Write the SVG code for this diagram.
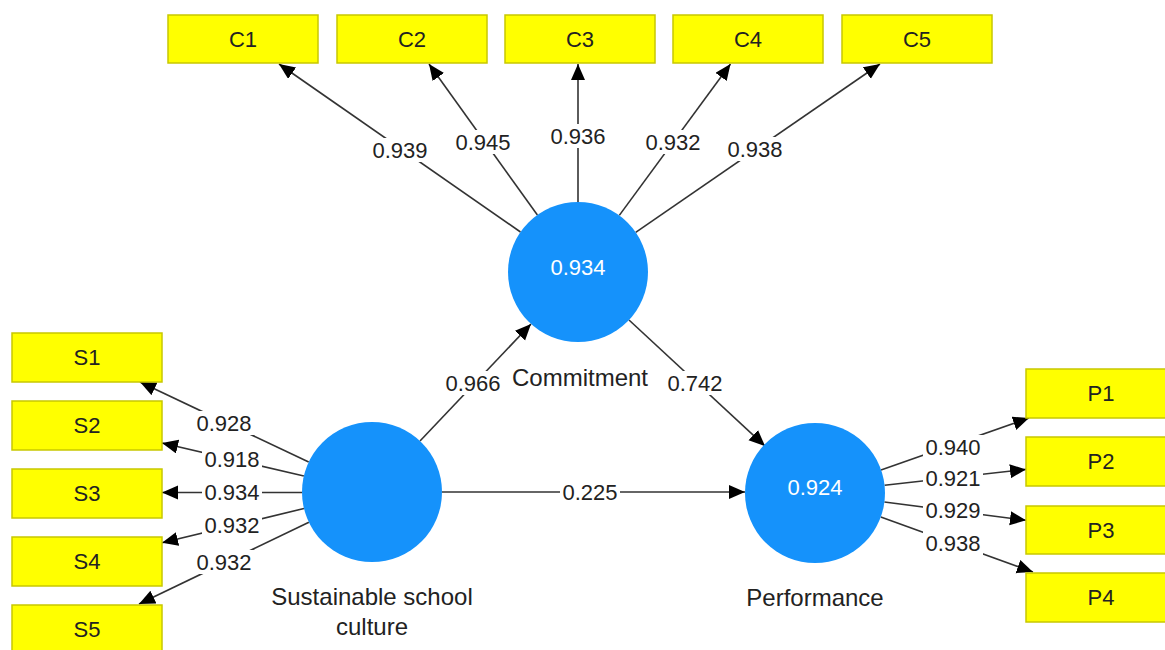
<svg xmlns="http://www.w3.org/2000/svg" width="1165" height="650" viewBox="0 0 1165 650">
<style>
.box{fill:#ffff00;stroke:#c8c800;stroke-width:1.5}
.lv{fill:#1592fb}
.t{font-family:"Liberation Sans",Arial,sans-serif;font-size:22px;fill:#222;text-anchor:middle}
.n{font-family:"Liberation Sans",Arial,sans-serif;font-size:24px;fill:#222;text-anchor:middle}
.w{font-family:"Liberation Sans",Arial,sans-serif;font-size:22px;fill:#fff;text-anchor:middle}
.e{stroke:#333;stroke-width:1.6;fill:none;marker-end:url(#ah)}
.bg{fill:#fff}
</style>
<defs>
<marker id="ah" markerUnits="userSpaceOnUse" markerWidth="18" markerHeight="16" refX="16" refY="7" orient="auto">
<path d="M0,0 L16,7 L0,14 z" fill="#000"/>
</marker>
</defs>
<g id="connectors">
<line class="e" x1="520.5" y1="232" x2="279" y2="64"/>
<line class="e" x1="537.4" y1="215" x2="429" y2="64"/>
<line class="e" x1="578" y1="202" x2="578" y2="64"/>
<line class="e" x1="619.3" y1="215.4" x2="730.5" y2="64"/>
<line class="e" x1="635.7" y1="232.3" x2="880" y2="64"/>
<line class="e" x1="308.7" y1="462" x2="140" y2="382"/>
<line class="e" x1="303.9" y1="476" x2="162" y2="443"/>
<line class="e" x1="302" y1="492.5" x2="162" y2="492.5"/>
<line class="e" x1="304" y1="508.5" x2="162" y2="542.8"/>
<line class="e" x1="308.9" y1="522.3" x2="139" y2="604"/>
<line class="e" x1="881" y1="469.9" x2="1029" y2="418"/>
<line class="e" x1="884.6" y1="485.2" x2="1026" y2="469.4"/>
<line class="e" x1="884.4" y1="502" x2="1026" y2="520.3"/>
<line class="e" x1="880.8" y1="516.9" x2="1033" y2="572"/>
<line class="e" x1="420" y1="441" x2="531" y2="324"/>
<line class="e" x1="629" y1="320" x2="765" y2="446"/>
<line class="e" x1="442" y1="492" x2="745" y2="492"/>
<g id="edge-labels">
<rect class="bg" x="370" y="138" width="60" height="24"/><text class="t" x="400" y="158">0.939</text>
<rect class="bg" x="453" y="130" width="60" height="24"/><text class="t" x="483" y="150">0.945</text>
<rect class="bg" x="548" y="124" width="60" height="24"/><text class="t" x="578" y="144">0.936</text>
<rect class="bg" x="643" y="130" width="60" height="24"/><text class="t" x="673" y="150">0.932</text>
<rect class="bg" x="725" y="137" width="60" height="24"/><text class="t" x="755" y="157">0.938</text>
<rect class="bg" x="194" y="411" width="60" height="24"/><text class="t" x="224" y="431">0.928</text>
<rect class="bg" x="202" y="447" width="60" height="24"/><text class="t" x="232" y="467">0.918</text>
<rect class="bg" x="202" y="480" width="60" height="24"/><text class="t" x="232" y="500">0.934</text>
<rect class="bg" x="202" y="513" width="60" height="24"/><text class="t" x="232" y="533">0.932</text>
<rect class="bg" x="194" y="550" width="60" height="24"/><text class="t" x="224" y="570">0.932</text>
<rect class="bg" x="923" y="435" width="60" height="24"/><text class="t" x="953" y="455">0.940</text>
<rect class="bg" x="923" y="466" width="60" height="24"/><text class="t" x="953" y="486">0.921</text>
<rect class="bg" x="923" y="498" width="60" height="24"/><text class="t" x="953" y="518">0.929</text>
<rect class="bg" x="923" y="531" width="60" height="24"/><text class="t" x="953" y="551">0.938</text>
<rect class="bg" x="443" y="371" width="60" height="24"/><text class="t" x="473" y="391">0.966</text>
<rect class="bg" x="665" y="371" width="60" height="24"/><text class="t" x="695" y="391">0.742</text>
<rect class="bg" x="560" y="480" width="60" height="24"/><text class="t" x="590" y="500">0.225</text>
</g>
</g>
<g id="C1"><rect class="box" x="168" y="15" width="150" height="48"/><text class="t" x="243" y="47">C1</text></g>
<g id="C2"><rect class="box" x="337" y="15" width="150" height="48"/><text class="t" x="412" y="47">C2</text></g>
<g id="C3"><rect class="box" x="505" y="15" width="150" height="48"/><text class="t" x="580" y="47">C3</text></g>
<g id="C4"><rect class="box" x="673" y="15" width="150" height="48"/><text class="t" x="748" y="47">C4</text></g>
<g id="C5"><rect class="box" x="842" y="15" width="150" height="48"/><text class="t" x="917" y="47">C5</text></g>
<g id="S1"><rect class="box" x="12" y="333" width="150" height="49"/><text class="t" x="87" y="365">S1</text></g>
<g id="S2"><rect class="box" x="12" y="401" width="150" height="49"/><text class="t" x="87" y="433">S2</text></g>
<g id="S3"><rect class="box" x="12" y="469" width="150" height="49"/><text class="t" x="87" y="501">S3</text></g>
<g id="S4"><rect class="box" x="12" y="537" width="150" height="49"/><text class="t" x="87" y="569">S4</text></g>
<g id="S5"><rect class="box" x="12" y="605" width="150" height="49"/><text class="t" x="87" y="637">S5</text></g>
<g id="P1"><rect class="box" x="1026" y="369" width="150" height="49"/><text class="t" x="1101" y="401">P1</text></g>
<g id="P2"><rect class="box" x="1026" y="437" width="150" height="49"/><text class="t" x="1101" y="469">P2</text></g>
<g id="P3"><rect class="box" x="1026" y="506" width="150" height="48"/><text class="t" x="1101" y="538">P3</text></g>
<g id="P4"><rect class="box" x="1026" y="573" width="150" height="49"/><text class="t" x="1101" y="605">P4</text></g>
<g id="Commitment"><circle class="lv" cx="578" cy="272" r="70"/><text class="w" x="578" y="275">0.934</text><text class="n" x="580" y="386">Commitment</text></g>
<g id="SustainableSchoolCulture"><circle class="lv" cx="372" cy="492" r="70"/><text class="n" x="372" y="605">Sustainable school</text><text class="n" x="372" y="635">culture</text></g>
<g id="Performance"><circle class="lv" cx="815" cy="493" r="70"/><text class="w" x="815" y="495">0.924</text><text class="n" x="815" y="606">Performance</text></g>
</svg>
